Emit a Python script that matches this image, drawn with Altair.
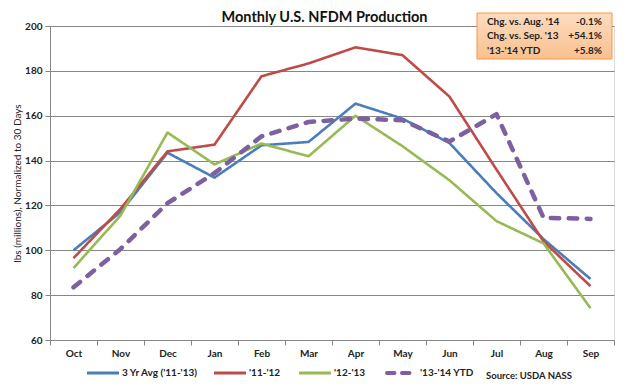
import altair as alt
import pandas as pd

months = ["Oct", "Nov", "Dec", "Jan", "Feb", "Mar", "Apr", "May", "Jun", "Jul", "Aug", "Sep"]
series_names = ["3 Yr Avg ('11-'13)", "'11-'12", "'12-'13", "'13-'14 YTD"]
avg_3yr = [100, 117, 143.5, 132.4, 146.8, 148.3, 165.4, 158.7, 147.8, 125.5, 105, 87.2]
y_11_12 = [96.5, 118.5, 144.1, 147.1, 177.6, 183.3, 190.5, 187, 168.5, 136, 104, 84]
y_12_13 = [92.1, 115.5, 152.5, 138.3, 147.6, 141.9, 160, 146.4, 131.2, 113, 103.1, 74.2]
y_13_14 = [83.5, 100.6, 121, 134.4, 150.8, 157.2, 158.7, 158, 148.5, 160.7, 114.5, 114]
series_colors = ["#4A7EBB", "#BE4B48", "#98B954", "#7D60A0"]

box_labels = ["Chg. vs. Aug. '14", "Chg. vs. Sep. '13", "'13-'14 YTD"]
box_values = ["-0.1%", "+54.1%", "+5.8%"]

title_text = "Monthly U.S. NFDM Production"
y_title = "lbs (millions), Normalized to 30 Days"
source_text = "Source: USDA NASS"

rows = []
for name, vals in zip(series_names, [avg_3yr, y_11_12, y_12_13, y_13_14]):
    for i, (m, v) in enumerate(zip(months, vals)):
        rows.append({"series": name, "month": m, "value": v, "order": i})
df = pd.DataFrame(rows)

FONT = "Lato"
W, H = 564, 314

color_scale = alt.Scale(domain=series_names, range=series_colors)
dash_scale = alt.Scale(domain=series_names, range=[[1, 0], [1, 0], [1, 0], [8.5, 9.5]])

x_enc = alt.X(
    "month:N", sort=months, title=None,
    scale=alt.Scale(type="band", paddingInner=0, paddingOuter=0),
    bandPosition=0.5,
    axis=alt.Axis(tickBand="extent", labelAngle=0, labelFont=FONT, labelFontSize=10,
                  labelFontWeight="bold", labelColor="#222", domainColor="#868686",
                  tickColor="#868686", tickSize=5, labelPadding=3, grid=False),
)
y_enc = alt.Y(
    "value:Q", title=y_title,
    scale=alt.Scale(domain=[60, 200], nice=False, zero=False),
    axis=alt.Axis(values=list(range(60, 201, 20)), labelFont=FONT, labelFontSize=10,
                  labelFontWeight="bold", labelColor="#222", titleFont=FONT,
                  titleFontSize=10, titleFontWeight="normal", titleColor="#222",
                  titleX=-33, titleY=157, titleAngle=270, titleAlign="center",
                  titleBaseline="middle",
                  domainColor="#868686", tickColor="#868686",
                  tickSize=5, gridColor="#868686", gridWidth=1, labelPadding=3),
)

base = alt.Chart(df).encode(
    x=x_enc, y=y_enc,
    color=alt.Color("series:N", scale=color_scale, legend=None),
    strokeDash=alt.StrokeDash("series:N", scale=dash_scale, legend=None),
    order=alt.Order("order:Q"),
)

solid = base.transform_filter(alt.datum.series != series_names[3]).mark_line(
    strokeWidth=2.6, strokeCap="butt", strokeJoin="round")
dashed = base.transform_filter(alt.datum.series == series_names[3]).mark_line(
    strokeWidth=4.5, strokeCap="round", strokeJoin="round")

one = pd.DataFrame({"k": [0]})

# legend (drawn by hand so that item spacing matches the reference)
legend_sym_x = [37, 164, 249, 335]
legend_layers = []
for i, name in enumerate(series_names):
    x0 = legend_sym_x[i]
    is_dash = i == 3
    legend_layers.append(
        alt.Chart(one).mark_rule(
            color=series_colors[i], strokeWidth=4 if is_dash else 3,
            strokeCap="round" if is_dash else "butt",
            strokeDash=[7.5, 7.5] if is_dash else [1, 0], clip=False,
        ).encode(x=alt.value(x0 + (2 if is_dash else 0)), x2=alt.value(x0 + (31 if is_dash else 32)),
                 y=alt.value(347))
    )
    legend_layers.append(
        alt.Chart(one).mark_text(
            text=name, align="left", baseline="middle", font=FONT, fontSize=10,
            fontWeight="bold", color="#222",
        ).encode(x=alt.value(x0 + 35), y=alt.value(347))
    )

box = alt.Chart(one).mark_rect(
    fill=alt.Gradient(gradient="linear", x1=0, y1=0, x2=0, y2=1,
                      stops=[alt.GradientStop(color="#FDDCC0", offset=0),
                             alt.GradientStop(color="#FAC08F", offset=1)]),
    stroke="#F79646", strokeWidth=1, clip=False,
).encode(x=alt.value(427), x2=alt.value(562), y=alt.value(-13), y2=alt.value(33))

box_left = alt.Chart(one).mark_text(
    text="\n".join(box_labels), align="left", baseline="middle", lineBreak="\n",
    lineHeight=14.5, font=FONT, fontSize=10, fontWeight="bold", color="#222",
).encode(x=alt.value(437), y=alt.value(-4.5))

box_right = alt.Chart(one).mark_text(
    text="\n".join(box_values), align="right", baseline="middle", lineBreak="\n",
    lineHeight=14.5, font=FONT, fontSize=10, fontWeight="bold", color="#222",
).encode(x=alt.value(552), y=alt.value(-4.5))

source = alt.Chart(one).mark_text(
    text=source_text, align="right", baseline="middle",
    font=FONT, fontSize=9.5, fontWeight="bold", color="#222",
).encode(x=alt.value(522), y=alt.value(350))

title = alt.Chart(one).mark_text(
    text=title_text, align="center", baseline="middle",
    font=FONT, fontSize=14.5, fontWeight="bold", color="#111",
).encode(x=alt.value(274.5), y=alt.value(-8.5))

chart = alt.layer(solid, dashed, box, box_left, box_right, source, title,
                  *legend_layers).properties(
    width=W, height=H,
    autosize=alt.AutoSizeParams(type="none"),
    padding={"left": 42, "top": 18, "right": 6, "bottom": 40},
).configure_view(stroke=None).configure(background="white")

chart.save("out.html", embed_options={"renderer": "svg", "actions": False})
